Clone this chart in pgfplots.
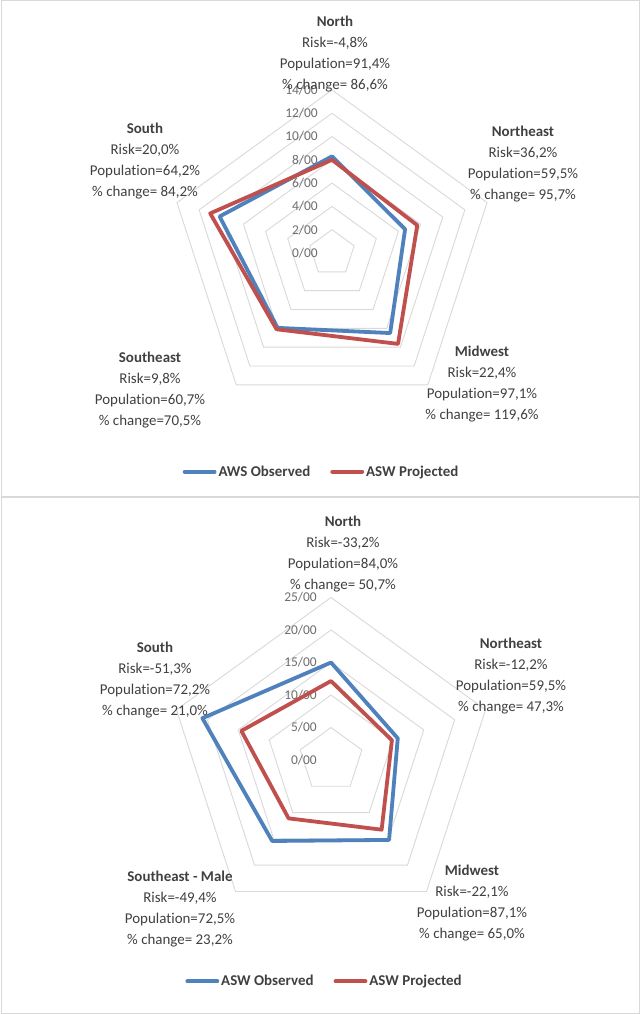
\documentclass[border=0pt]{standalone}
\usepackage{fontspec}
\setmainfont{Carlito}[Ligatures=NoCommon]
\usepackage{pgfplots}
\pgfplotsset{compat=1.18}
\usepgfplotslibrary{polar}
\definecolor{obs}{HTML}{4F81BD}
\definecolor{proj}{HTML}{C0504D}
\definecolor{gridc}{HTML}{D9D9D9}
\definecolor{tickc}{HTML}{6E6E6E}
\definecolor{txt}{HTML}{404040}
\pgfplotsset{
  radar/.style={hide axis, clip=false, scale only axis, anchor=origin,
    xmin=0, xmax=360, ymin=0,
    legend columns=2,
    legend style={draw=none, fill=none, anchor=center,
      font=\fontsize{15}{18}\selectfont\bfseries, text=txt,
      /tikz/every even column/.append style={column sep=18bp}},
    legend image code/.code={\draw[##1] (0bp,0bp) -- (30bp,0bp);}},
  ring/.style={color=gridc, line width=0.9bp, forget plot},
  series/.style={line width=3.8bp, line join=round, line cap=round},
}
\newcommand\tlab[2]{\node[anchor=east, text=tickc, inner sep=0pt, xshift=-14bp,
  font=\fontsize{13.5}{15}\selectfont] at (axis cs:90,#1) {#2};}
\newcommand\clab[6]{%
  \node[anchor=base, text=txt, font=\fontsize{15}{18}\selectfont\bfseries] at (#1,#2) {#3};
  \node[anchor=base, text=txt, font=\fontsize{15}{18}\selectfont] at (#1,#2-21) {#4};
  \node[anchor=base, text=txt, font=\fontsize{15}{18}\selectfont] at (#1,#2-42) {#5};
  \node[anchor=base, text=txt, font=\fontsize{15}{18}\selectfont] at (#1,#2-63) {#6};}
\begin{document}
\begin{tikzpicture}[x=1bp,y=1bp]
\useasboundingbox (0,0) rectangle (640,1014);
\fill[white] (0,0) rectangle (640,1014);
\draw[gridc, line width=1bp] (1,517.5) rectangle (639,1013.5);
\draw[gridc, line width=1bp] (1,0.5) rectangle (639,516.5);

% ---------- Chart 1 ----------
\begin{polaraxis}[radar, ymax=14, width=326bp, height=326bp, at={(332bp,761bp)},
  legend style={at={(0.4678,-0.1709)}}]
\addplot[ring] coordinates {(90,2) (18,2) (306,2) (234,2) (162,2) (90,2)};
\addplot[ring] coordinates {(90,4) (18,4) (306,4) (234,4) (162,4) (90,4)};
\addplot[ring] coordinates {(90,6) (18,6) (306,6) (234,6) (162,6) (90,6)};
\addplot[ring] coordinates {(90,8) (18,8) (306,8) (234,8) (162,8) (90,8)};
\addplot[ring] coordinates {(90,10) (18,10) (306,10) (234,10) (162,10) (90,10)};
\addplot[ring] coordinates {(90,12) (18,12) (306,12) (234,12) (162,12) (90,12)};
\addplot[ring] coordinates {(90,14) (18,14) (306,14) (234,14) (162,14) (90,14)};
\tlab{0}{0/00}\tlab{2}{2/00}\tlab{4}{4/00}\tlab{6}{6/00}
\tlab{8}{8/00}\tlab{10}{10/00}\tlab{12}{12/00}\tlab{14}{14/00}
\addplot[series, obs] coordinates {(90,8.3) (18,6.6) (306,8.5) (234,7.95) (162,10.15) (90,8.3)};
\addlegendentry{AWS Observed}
\addplot[series, proj] coordinates {(90,8.0) (18,7.7) (306,9.65) (234,8.1) (162,11.0) (90,8.0)};
\addlegendentry{ASW Projected}
\end{polaraxis}
\clab{335}{987}{North}{Risk=-4,8\%}{Population=91,4\%}{\% change= 86,6\%}
\clab{523}{877.3}{Northeast}{Risk=36,2\%}{Population=59,5\%}{\% change= 95,7\%}
\clab{482}{657.3}{Midwest}{Risk=22,4\%}{Population=97,1\%}{\% change= 119,6\%}
\clab{150}{651}{Southeast}{Risk=9,8\%}{Population=60,7\%}{\% change=70,5\%}
\clab{145}{880}{South}{Risk=20,0\%}{Population=64,2\%}{\% change= 84,2\%}

% ---------- Chart 2 ----------
\begin{polaraxis}[radar, ymax=25, width=325bp, height=325bp, at={(331bp,254bp)},
  legend style={at={(0.4800,-0.1808)}}]
\addplot[ring] coordinates {(90,5) (18,5) (306,5) (234,5) (162,5) (90,5)};
\addplot[ring] coordinates {(90,10) (18,10) (306,10) (234,10) (162,10) (90,10)};
\addplot[ring] coordinates {(90,15) (18,15) (306,15) (234,15) (162,15) (90,15)};
\addplot[ring] coordinates {(90,20) (18,20) (306,20) (234,20) (162,20) (90,20)};
\addplot[ring] coordinates {(90,25) (18,25) (306,25) (234,25) (162,25) (90,25)};
\tlab{0}{0/00}\tlab{5}{5/00}\tlab{10}{10/00}\tlab{15}{15/00}
\tlab{20}{20/00}\tlab{25}{25/00}
\addplot[series, obs] coordinates {(90,15.0) (18,10.8) (306,15.2) (234,15.4) (162,20.8) (90,15.0)};
\addlegendentry{ASW Observed}
\addplot[series, proj] coordinates {(90,12.15) (18,9.85) (306,13.25) (234,11.1) (162,14.5) (90,12.15)};
\addlegendentry{ASW Projected}
\end{polaraxis}
\clab{343}{487.3}{North}{Risk=-33,2\%}{Population=84,0\%}{\% change= 50,7\%}
\clab{511}{365}{Northeast}{Risk=-12,2\%}{Population=59,5\%}{\% change= 47,3\%}
\clab{472}{138}{Midwest}{Risk=-22,1\%}{Population=87,1\%}{\% change= 65,0\%}
\clab{180}{132}{Southeast - Male}{Risk=-49,4\%}{Population=72,5\%}{\% change= 23,2\%}
\clab{155}{361.7}{South}{Risk=-51,3\%}{Population=72,2\%}{\% change= 21,0\%}
\end{tikzpicture}
\end{document}
